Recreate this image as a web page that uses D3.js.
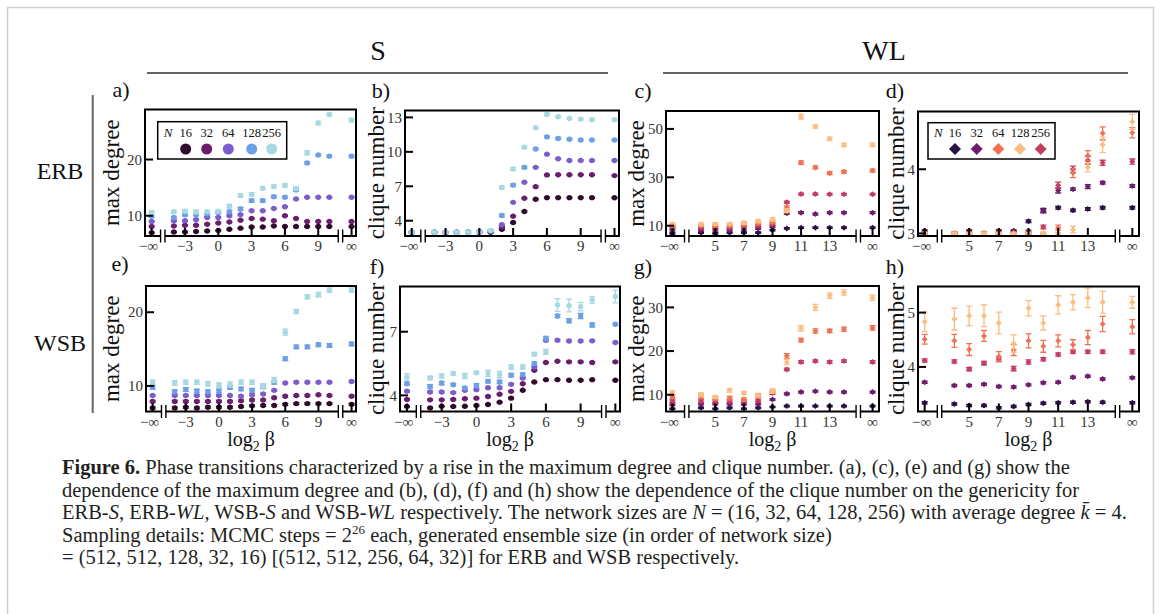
<!DOCTYPE html>
<html>
<head>
<meta charset="utf-8">
<script src="https://cdn.jsdelivr.net/npm/d3@7"></script>
<style>
  body { margin: 0; background: #fff; }
  svg { display: block; }
  text { font-family: "Liberation Serif", "Times New Roman", serif; fill: #111; }
</style>
</head>
<body>
<svg id="fig" width="1167" height="614"></svg>
<script>
// x positions: -inf is drawn at -6 (S) / 2 (WL), +inf at 12 (S) / 16 (WL)
const xS = [-6, -4, -3, -2, -1, 0, 1, 2, 3, 4, 5, 6, 7, 8, 9, 10, 12];
const xWL = [2, 4, 5, 6, 7, 8, 9, 10, 11, 12, 13, 14, 16];
const xTicksS = [-6, -3, 0, 3, 6, 9, 12];
const xTickLabelsS = ['−∞', '−3', '0', '3', '6', '9', '∞'];
const xTicksWL = [2, 5, 7, 9, 11, 13, 16];
const xTickLabelsWL = ['−∞', '5', '7', '9', '11', '13', '∞'];
const sizes = [16, 32, 64, 128, 256];

const colorsS = ['#2f0c2b', '#6a1f6e', '#7d5ccc', '#6c9fe6', '#a8d8e2'];
// WL series in drawing order: 16, 32, 256, 64, 128 (legend colours as in the figure)
const colorsWL = ['#2b1246', '#6e1e6f', '#c43c62', '#ee7354', '#fbbe80'];
const legendWL = ['#2b1246', '#6e1e6f', '#ee7354', '#fbbe80', '#c43c62'];

// (a) ERB-S max degree ; rows: N = 16, 32, 64, 128, 256
const erbSDeg = [
  [7.0, 7.1, 7.1, 7.2, 7.3, 7.4, 7.6, 7.8, 8.0, 8.0, 8.2, 8.1, 8.1, 8.1, 8.1, 8.1, 8.1],
  [8.1, 8.2, 8.3, 8.3, 8.5, 8.7, 8.9, 9.2, 9.5, 9.4, 9.1, 10.0, 9.5, 9.0, 9.0, 9.0, 9.0],
  [9.0, 9.1, 9.1, 9.3, 9.7, 9.7, 10.0, 10.2, 10.9, 10.9, 11.3, 11.6, 13.0, 13.3, 13.3, 13.3, 13.3],
  [9.9, 9.7, 10.2, 10.2, 10.3, 10.6, 10.7, 11.2, 12.7, 12.7, 13.4, 13.3, 14.6, 19.4, 20.8, 20.6, 20.6],
  [10.6, 10.7, 10.8, 10.7, 10.7, 10.8, 11.7, 13.6, 13.8, 14.9, 15.2, 15.4, 14.8, 21.2, 26.5, 28.0, 27.0]
];
const erbSDegErr = [
  [0.1, 0.1, 0.1, 0.1, 0.1, 0.1, 0.1, 0.1, 0.1, 0.1, 0.1, 0.1, 0.1, 0.1, 0.1, 0.1, 0.1],
  [0.1, 0.1, 0.1, 0.1, 0.1, 0.1, 0.1, 0.1, 0.1, 0.1, 0.1, 0.1, 0.1, 0.1, 0.1, 0.1, 0.1],
  [0.12, 0.12, 0.12, 0.12, 0.12, 0.12, 0.12, 0.12, 0.12, 0.12, 0.12, 0.12, 0.12, 0.12, 0.12, 0.12, 0.12],
  [0.2, 0.2, 0.2, 0.2, 0.2, 0.2, 0.25, 0.3, 0.25, 0.25, 0.2, 0.2, 0.25, 0.2, 0.2, 0.2, 0.2],
  [0.3, 0.25, 0.3, 0.3, 0.25, 0.25, 0.3, 0.3, 0.25, 0.25, 0.25, 0.25, 0.3, 0.35, 0.3, 0.25, 0.3]
];

// (b) ERB-S clique number
const erbSClq = [
  [3.0, 3.0, 3.0, 3.0, 3.0, 3.05, 3.0, 3.26, 3.84, 4.8, 5.87, 6.01, 6.01, 6.01, 6.01, 6.01, 6.0],
  [3.0, 3.0, 3.0, 3.0, 3.0, 3.0, 3.05, 3.43, 4.4, 5.96, 6.97, 7.99, 8.0, 8.0, 8.0, 8.0, 7.93],
  [3.0, 3.0, 3.0, 3.0, 3.0, 3.0, 3.1, 3.65, 5.6, 7.35, 8.65, 9.8, 9.4, 9.25, 9.25, 9.25, 9.25],
  [3.0, 3.0, 3.0, 3.0, 3.0, 3.0, 3.1, 4.45, 7.1, 8.65, 10.25, 11.3, 11.17, 11.1, 11.03, 11.03, 11.03],
  [3.0, 3.0, 3.0, 3.0, 3.0, 3.0, 3.15, 6.9, 8.5, 10.4, 12.1, 13.26, 13.06, 12.9, 12.85, 12.8, 12.8]
];
const erbSClqErr = [
  [0.05, 0.05, 0.05, 0.05, 0.05, 0.05, 0.05, 0.05, 0.05, 0.05, 0.05, 0.05, 0.05, 0.05, 0.05, 0.05, 0.05],
  [0.05, 0.05, 0.05, 0.05, 0.05, 0.05, 0.05, 0.05, 0.05, 0.05, 0.05, 0.05, 0.05, 0.05, 0.05, 0.05, 0.05],
  [0.05, 0.05, 0.05, 0.05, 0.05, 0.05, 0.05, 0.05, 0.05, 0.05, 0.05, 0.05, 0.05, 0.05, 0.05, 0.05, 0.05],
  [0.06, 0.06, 0.06, 0.06, 0.06, 0.06, 0.06, 0.12, 0.1, 0.1, 0.08, 0.08, 0.08, 0.08, 0.08, 0.08, 0.08],
  [0.06, 0.06, 0.06, 0.06, 0.06, 0.06, 0.08, 0.12, 0.12, 0.1, 0.08, 0.1, 0.08, 0.08, 0.08, 0.08, 0.1]
];

// (c) ERB-WL max degree ; rows in drawing order: N = 16, 32, 256, 64, 128
const erbWlDeg = [
  [6.8, 7.1, 6.8, 7.1, 7.1, 7.1, 8.2, 8.9, 9.2, 9.2, 9.2, 9.2, 9.2],
  [8.2, 8.2, 8.2, 8.2, 8.2, 8.9, 9.6, 15.1, 15.4, 14.8, 15.4, 15.4, 15.4],
  [9.2, 9.2, 9.2, 9.2, 9.6, 10.0, 10.7, 19.7, 23.1, 23.1, 23.0, 23.0, 23.0],
  [10.0, 10.0, 10.0, 10.0, 10.6, 11.0, 11.4, 17.4, 36.1, 34.1, 31.7, 32.3, 32.8],
  [10.7, 10.6, 10.7, 10.7, 11.2, 11.9, 12.6, 16.2, 55.1, 51.0, 45.9, 43.4, 43.4]
];
const erbWlDegErr = [
  [0.3, 0.3, 0.3, 0.3, 0.3, 0.3, 0.3, 0.3, 0.3, 0.3, 0.3, 0.3, 0.3],
  [0.4, 0.4, 0.4, 0.4, 0.4, 0.4, 0.4, 0.4, 0.4, 0.4, 0.4, 0.4, 0.4],
  [0.4, 0.4, 0.4, 0.4, 0.4, 0.4, 0.4, 0.5, 0.4, 0.4, 0.4, 0.4, 0.4],
  [0.5, 0.5, 0.5, 0.5, 0.5, 0.5, 0.5, 0.8, 0.7, 0.6, 0.6, 0.6, 0.6],
  [0.6, 0.6, 0.6, 0.6, 0.6, 0.6, 0.6, 0.8, 1.0, 0.7, 0.7, 0.7, 0.7]
];

// (d) ERB-WL clique number
const erbWlClq = [
  [3.04, 3.0, 3.04, 3.0, 3.04, 3.04, 3.19, 3.36, 3.40, 3.36, 3.38, 3.40, 3.40],
  [3.0, 3.0, 3.0, 3.0, 3.0, 3.03, 3.03, 3.35, 3.67, 3.69, 3.73, 3.79, 3.74],
  [3.0, 3.0, 3.0, 3.0, 3.0, 3.0, 3.0, 3.10, 3.75, 4.0, 4.14, 4.10, 4.12],
  [3.0, 3.0, 3.0, 3.0, 3.0, 3.0, 3.0, 3.0, 3.09, 3.94, 4.21, 4.56, 4.57],
  [3.0, 3.0, 3.0, 3.0, 3.0, 3.0, 3.0, 3.0, 3.0, 3.06, 4.03, 4.38, 4.74]
];
const erbWlClqErr = [
  [0.015, 0.015, 0.015, 0.015, 0.015, 0.015, 0.02, 0.03, 0.02, 0.02, 0.02, 0.02, 0.02],
  [0.015, 0.015, 0.015, 0.015, 0.015, 0.015, 0.02, 0.03, 0.04, 0.02, 0.03, 0.02, 0.02],
  [0.015, 0.015, 0.015, 0.015, 0.015, 0.015, 0.015, 0.03, 0.05, 0.05, 0.06, 0.04, 0.04],
  [0.015, 0.015, 0.015, 0.015, 0.015, 0.015, 0.015, 0.015, 0.04, 0.07, 0.08, 0.1, 0.08],
  [0.015, 0.015, 0.015, 0.015, 0.015, 0.015, 0.015, 0.015, 0.015, 0.05, 0.07, 0.12, 0.12]
];

// (e) WSB-S max degree
const wsbSDeg = [
  [7.0, 7.0, 7.1, 7.0, 7.1, 7.1, 7.1, 7.2, 7.3, 7.35, 7.35, 7.5, 7.6, 7.6, 7.6, 7.6, 7.5],
  [7.9, 7.9, 7.9, 7.9, 7.9, 7.9, 7.9, 8.0, 8.1, 8.1, 8.4, 8.6, 8.7, 8.7, 8.8, 8.7, 8.6],
  [8.7, 8.7, 8.7, 8.7, 8.7, 8.7, 8.7, 8.6, 8.8, 8.9, 9.4, 10.4, 10.5, 10.5, 10.5, 10.5, 10.6],
  [9.8, 9.2, 9.5, 9.3, 9.2, 9.3, 9.8, 9.6, 9.4, 9.9, 10.5, 13.7, 15.3, 15.3, 15.6, 15.5, 15.7],
  [10.5, 10.4, 10.5, 10.5, 10.3, 10.1, 10.2, 10.5, 10.5, 10.0, 10.8, 17.3, 20.1, 22.1, 22.4, 23.0, 23.0]
];
const wsbSDegErr = [
  [0.12, 0.12, 0.12, 0.12, 0.12, 0.12, 0.12, 0.12, 0.12, 0.12, 0.12, 0.12, 0.12, 0.12, 0.12, 0.12, 0.12],
  [0.12, 0.12, 0.12, 0.12, 0.12, 0.12, 0.12, 0.12, 0.12, 0.12, 0.12, 0.12, 0.12, 0.12, 0.12, 0.12, 0.12],
  [0.12, 0.12, 0.12, 0.12, 0.12, 0.12, 0.12, 0.12, 0.12, 0.12, 0.12, 0.12, 0.12, 0.12, 0.12, 0.12, 0.12],
  [0.25, 0.25, 0.25, 0.25, 0.25, 0.25, 0.25, 0.25, 0.25, 0.25, 0.25, 0.25, 0.25, 0.25, 0.25, 0.25, 0.25],
  [0.3, 0.3, 0.3, 0.3, 0.3, 0.3, 0.35, 0.3, 0.3, 0.3, 0.35, 0.4, 0.3, 0.3, 0.3, 0.3, 0.3]
];

// (f) WSB-S clique number
const wsbSClq = [
  [3.48, 3.41, 3.49, 3.48, 3.49, 3.52, 3.57, 3.68, 3.87, 4.24, 4.63, 4.74, 4.74, 4.71, 4.71, 4.74, 4.71],
  [3.81, 3.79, 3.79, 3.81, 3.84, 3.87, 3.95, 4.05, 4.19, 4.55, 5.18, 5.55, 5.61, 5.58, 5.58, 5.55, 5.58],
  [4.2, 4.16, 4.16, 4.13, 4.24, 4.27, 4.36, 4.36, 4.52, 4.82, 5.34, 6.6, 6.6, 6.56, 6.56, 6.57, 6.49],
  [4.55, 4.42, 4.58, 4.5, 4.35, 4.47, 4.66, 4.63, 4.95, 4.98, 5.5, 6.68, 7.74, 7.52, 7.74, 7.32, 7.35],
  [4.87, 4.82, 4.91, 5.03, 4.91, 5.07, 5.03, 4.98, 5.34, 5.34, 5.94, 6.05, 8.26, 8.23, 8.18, 8.5, 8.66]
];
const wsbSClqErr = [
  [0.03, 0.03, 0.03, 0.03, 0.03, 0.03, 0.03, 0.03, 0.03, 0.03, 0.03, 0.03, 0.03, 0.03, 0.03, 0.03, 0.03],
  [0.03, 0.03, 0.03, 0.03, 0.03, 0.03, 0.03, 0.03, 0.03, 0.03, 0.03, 0.03, 0.03, 0.03, 0.03, 0.03, 0.03],
  [0.04, 0.04, 0.04, 0.04, 0.04, 0.04, 0.04, 0.04, 0.04, 0.04, 0.04, 0.05, 0.04, 0.04, 0.04, 0.04, 0.04],
  [0.07, 0.08, 0.08, 0.06, 0.06, 0.08, 0.07, 0.08, 0.08, 0.08, 0.08, 0.1, 0.08, 0.1, 0.12, 0.1, 0.05],
  [0.15, 0.08, 0.1, 0.08, 0.12, 0.06, 0.15, 0.15, 0.1, 0.1, 0.08, 0.12, 0.3, 0.3, 0.2, 0.15, 0.3]
];

// (g) WSB-WL max degree ; rows in drawing order: N = 16, 32, 256, 64, 128
const wsbWlDeg = [
  [6.8, 7.0, 6.8, 7.0, 6.8, 7.0, 7.2, 7.4, 7.4, 7.4, 7.4, 7.4, 7.4],
  [7.7, 7.9, 7.9, 7.9, 7.8, 7.9, 8.9, 10.2, 10.6, 10.8, 10.6, 10.6, 10.6],
  [8.5, 8.5, 8.5, 8.5, 8.5, 8.7, 10.4, 15.8, 17.5, 17.7, 17.5, 17.7, 17.5],
  [9.6, 9.6, 9.1, 9.2, 8.9, 9.8, 10.8, 18.9, 22.5, 24.6, 24.6, 25.0, 25.3],
  [10.5, 10.0, 9.5, 11.0, 10.4, 9.8, 10.8, 17.5, 25.2, 30.0, 32.7, 33.4, 32.2]
];
const wsbWlDegErr = [
  [0.15, 0.15, 0.15, 0.15, 0.15, 0.15, 0.15, 0.15, 0.15, 0.15, 0.15, 0.15, 0.15],
  [0.2, 0.2, 0.2, 0.2, 0.2, 0.2, 0.2, 0.2, 0.2, 0.2, 0.2, 0.2, 0.2],
  [0.3, 0.3, 0.3, 0.3, 0.3, 0.3, 0.3, 0.3, 0.3, 0.3, 0.3, 0.3, 0.3],
  [0.4, 0.4, 0.4, 0.4, 0.4, 0.4, 0.4, 0.5, 0.4, 0.5, 0.4, 0.5, 0.5],
  [0.4, 0.4, 0.3, 0.4, 0.35, 0.3, 0.4, 0.6, 0.6, 0.7, 0.6, 0.6, 0.6]
];

// (h) WSB-WL clique number
const wsbWlClq = [
  [3.34, 3.32, 3.29, 3.29, 3.25, 3.27, 3.31, 3.33, 3.34, 3.35, 3.36, 3.35, 3.34],
  [3.72, 3.66, 3.66, 3.68, 3.64, 3.63, 3.67, 3.71, 3.72, 3.81, 3.83, 3.78, 3.8],
  [4.12, 4.10, 3.96, 4.07, 4.14, 3.97, 4.09, 4.14, 4.23, 4.28, 4.28, 4.28, 4.28],
  [4.51, 4.48, 4.32, 4.57, 4.19, 4.31, 4.48, 4.38, 4.48, 4.41, 4.54, 4.79, 4.74],
  [4.83, 4.88, 4.94, 4.94, 4.81, 4.43, 5.08, 4.81, 5.14, 5.19, 5.27, 5.19, 5.19]
];
const wsbWlClqErr = [
  [0.02, 0.02, 0.02, 0.02, 0.02, 0.02, 0.02, 0.02, 0.02, 0.02, 0.02, 0.02, 0.02],
  [0.02, 0.02, 0.02, 0.02, 0.02, 0.02, 0.02, 0.02, 0.02, 0.02, 0.02, 0.02, 0.02],
  [0.03, 0.03, 0.03, 0.03, 0.04, 0.04, 0.04, 0.03, 0.03, 0.03, 0.03, 0.03, 0.04],
  [0.09, 0.12, 0.11, 0.1, 0.09, 0.1, 0.13, 0.11, 0.11, 0.09, 0.13, 0.14, 0.13],
  [0.18, 0.2, 0.18, 0.2, 0.2, 0.16, 0.14, 0.13, 0.17, 0.14, 0.18, 0.2, 0.11]
];

const svg = d3.select('#fig');

// outer figure frame
svg.append('rect').attr('x', 7.5).attr('y', 7.5).attr('width', 1146).attr('height', 640)
  .attr('fill', 'none').attr('stroke', '#cfcfcf').attr('stroke-width', 1.5);

// column headings
[['S', 378, 147, 608], ['WL', 884, 663, 1128]].forEach(([t, cx, l, r]) => {
  svg.append('text').attr('x', cx).attr('y', 60).attr('text-anchor', 'middle')
    .style('font-size', '28px').text(t);
  svg.append('line').attr('x1', l).attr('x2', r).attr('y1', 73).attr('y2', 73)
    .attr('stroke', '#666').attr('stroke-width', 2);
});

// row headings
svg.append('line').attr('x1', 92.7).attr('x2', 92.7).attr('y1', 95).attr('y2', 413)
  .attr('stroke', '#666').attr('stroke-width', 2);
[['ERB', 171], ['WSB', 343]].forEach(([t, cy]) => {
  svg.append('text').attr('x', 60).attr('y', cy).attr('dy', '0.35em').attr('text-anchor', 'middle')
    .style('font-size', '24px').text(t);
});

const panels = [
  { lab: 'a)', lp: [121, 89], box: [145, 109.5, 356, 236], wl: false, data: erbSDeg, err: erbSDegErr,
    yDom: [6.4, 28.9], yTicks: [10, 20], ylab: 'max degree', ylx: 111, legend: true },
  { lab: 'b)', lp: [381, 90], box: [405, 110.5, 619, 236], wl: false, data: erbSClq, err: erbSClqErr,
    yDom: [2.67, 13.6], yTicks: [4, 7, 10, 13], ylab: 'clique number', ylx: 376 },
  { lab: 'c)', lp: [643, 90], box: [666, 111, 879, 236], wl: true, data: erbWlDeg, err: erbWlDegErr,
    yDom: [5.75, 57.4], yTicks: [10, 30, 50], ylab: 'max degree', ylx: 636 },
  { lab: 'd)', lp: [895, 90], box: [918, 111.5, 1139, 236], wl: true, data: erbWlClq, err: erbWlClqErr,
    yDom: [2.96, 4.9], yTicks: [3, 4], ylab: 'clique number', ylx: 896, legend: true },
  { lab: 'e)', lp: [120, 263], box: [146, 286, 356, 411.5], wl: false, data: wsbSDeg, err: wsbSDegErr,
    yDom: [6.53, 23.56], yTicks: [10, 20], ylab: 'max degree', ylx: 111, xlab: true },
  { lab: 'f)', lp: [377, 266], box: [400, 286.5, 620, 411.5], wl: false, data: wsbSClq, err: wsbSClqErr,
    yDom: [3.24, 9.13], yTicks: [4, 7], ylab: 'clique number', ylx: 376, xlab: true },
  { lab: 'g)', lp: [643, 266], box: [666, 286, 879, 411.5], wl: true, data: wsbWlDeg, err: wsbWlDegErr,
    yDom: [6.16, 34.9], yTicks: [10, 20, 30], ylab: 'max degree', ylx: 636, xlab: true },
  { lab: 'h)', lp: [895, 266], box: [918, 286.5, 1139, 411.5], wl: true, data: wsbWlClq, err: wsbWlClqErr,
    yDom: [3.18, 5.48], yTicks: [4, 5], ylab: 'clique number', ylx: 896, xlab: true }
];

const diamond = d3.symbol().type(d3.symbolSquare);

function drawPanel(p) {
  const [x0, y0, x1, y1] = p.box;
  const xs = p.wl ? xWL : xS;
  const x = d3.scaleLinear().domain(p.wl ? [1.55, 16.45] : [-6.6, 12.4]).range([x0, x1]);
  const y = d3.scaleLinear().domain(p.yDom).range([y1, y0]);
  const cols = p.wl ? colorsWL : colorsS;
  const g = svg.append('g');

  // points with error bars
  p.data.forEach((vals, i) => {
    const pts = xs.map((xv, j) => ({ x: xv, v: vals[j], e: p.err[i][j] }));
    const sg = g.append('g').attr('stroke', cols[i]).attr('fill', cols[i]);
    sg.selectAll('.eb').data(pts).join('path').attr('class', 'eb')
      .attr('stroke-width', 1.3).attr('fill', 'none')
      .attr('d', d => {
        const cx = x(d.x), ya = y(d.v - d.e), yb = y(d.v + d.e);
        return `M${cx},${ya}V${yb}M${cx - 3},${ya}H${cx + 3}M${cx - 3},${yb}H${cx + 3}`;
      });
    if (p.wl) {
      sg.selectAll('.pt').data(pts).join('path').attr('class', 'pt').attr('stroke', 'none')
        .attr('d', diamond.size(18))
        .attr('transform', d => `translate(${x(d.x)},${y(d.v)}) rotate(45)`);
    } else {
      sg.selectAll('.pt').data(pts).join('circle').attr('class', 'pt').attr('stroke', 'none')
        .attr('cx', d => x(d.x)).attr('cy', d => y(d.v)).attr('r', 2.7);
    }
  });

  // frame
  g.append('rect').attr('x', x0).attr('y', y0).attr('width', x1 - x0).attr('height', y1 - y0)
    .attr('fill', 'none').attr('stroke', '#000').attr('stroke-width', 2);

  // y ticks (inward)
  p.yTicks.forEach(t => {
    g.append('line').attr('x1', x0).attr('x2', x0 + 8).attr('y1', y(t)).attr('y2', y(t))
      .attr('stroke', '#000').attr('stroke-width', 2);
    g.append('text').attr('x', x0 - 3).attr('y', y(t)).attr('dy', '0.35em')
      .attr('text-anchor', 'end').style('font-size', '15px').style('fill', '#333').text(t);
  });

  // x ticks (inward)
  const xt = p.wl ? xTicksWL : xTicksS, xl = p.wl ? xTickLabelsWL : xTickLabelsS;
  xt.forEach((t, k) => {
    g.append('line').attr('x1', x(t)).attr('x2', x(t)).attr('y1', y1).attr('y2', y1 - 8)
      .attr('stroke', '#000').attr('stroke-width', 2);
    g.append('text').attr('x', x(t) + (k === 0 ? -3 : 0)).attr('y', y1 + 15)
      .attr('text-anchor', 'middle').style('font-size', '15px').style('fill', '#333').text(xl[k]);
  });

  // axis breaks
  (p.wl ? [3, 15] : [-5, 11]).forEach(b => {
    const bx = x(b);
    g.append('rect').attr('x', bx - 2).attr('y', y1 - 2).attr('width', 4).attr('height', 4).attr('fill', '#fff');
    [-2.2, 2.2].forEach(o => {
      g.append('line').attr('x1', bx + o).attr('x2', bx + o).attr('y1', y1 - 6.5).attr('y2', y1 + 6.5)
        .attr('stroke', '#000').attr('stroke-width', 1.4);
    });
  });

  // labels
  g.append('text').attr('x', p.lp[0]).attr('y', p.lp[1]).attr('dy', '0.35em').attr('text-anchor', 'middle')
    .style('font-size', '22px').text(p.lab);
  g.append('text').attr('transform', `translate(${p.ylx},${(y0 + y1) / 2}) rotate(-90)`)
    .attr('dy', '0.35em').attr('text-anchor', 'middle').style('font-size', '23px').text(p.ylab);
  if (p.xlab) {
    const t = g.append('text').attr('x', (x0 + x1) / 2).attr('y', 446).attr('text-anchor', 'middle')
      .style('font-size', '20px');
    t.append('tspan').text('log');
    t.append('tspan').attr('dy', 5).style('font-size', '14px').text('2');
    t.append('tspan').attr('dy', -5).text(' β');
  }

  if (p.legend) {
    const lb = p.wl ? [928, 122.7, 1055, 159] : [157.7, 121.7, 286.7, 159];
    const lx = p.wl ? [955, 976.7, 998.3, 1020, 1040.7] : [185.7, 206.7, 228.3, 251.7, 271.7];
    g.append('rect').attr('x', lb[0]).attr('y', lb[1]).attr('width', lb[2] - lb[0]).attr('height', lb[3] - lb[1])
      .attr('fill', '#fff').attr('stroke', '#000').attr('stroke-width', 1.5);
    g.append('text').attr('x', lb[0] + 6).attr('y', 132.5).attr('dy', '0.35em')
      .style('font-size', '13px').style('font-style', 'italic').text('N');
    sizes.forEach((n, k) => {
      g.append('text').attr('x', lx[k]).attr('y', 132.5).attr('dy', '0.35em').attr('text-anchor', 'middle')
        .style('font-size', '12.5px').text(n);
      if (p.wl) {
        g.append('path').attr('d', d3.symbol().type(d3.symbolSquare).size(72)())
          .attr('transform', `translate(${lx[k]},149) rotate(45)`).attr('fill', legendWL[k]);
      } else {
        g.append('circle').attr('cx', lx[k]).attr('cy', 149).attr('r', 5.5).attr('fill', colorsS[k]);
      }
    });
  }
}

panels.forEach(drawPanel);

// caption
const caption = [
  [['Figure 6.', 'b'], [' Phase transitions characterized by a rise in the maximum degree and clique number. (a), (c), (e) and (g) show the']],
  [['dependence of the maximum degree and (b), (d), (f) and (h) show the dependence of the clique number on the genericity for']],
  [['ERB-'], ['S', 'i'], [', ERB-'], ['WL', 'i'], [', WSB-'], ['S', 'i'], [' and WSB-'], ['WL', 'i'],
   [' respectively. The network sizes are '], ['N', 'i'], [' = (16, 32, 64, 128, 256) with average degree '],
   ['k\u0304', 'i'], [' = 4.']],
  [['Sampling details: MCMC steps = 2'], ['26', 'sup'], [' each, generated ensemble size (in order of network size)']],
  [['= (512, 512, 128, 32, 16) [(512, 512, 256, 64, 32)] for ERB and WSB respectively.']]
];
const capY = [474, 496.5, 519, 541.5, 564];
caption.forEach((segs, li) => {
  const t = svg.append('text').attr('x', 62).attr('y', capY[li]).style('font-size', '20.5px').style('fill', '#231f20');
  segs.forEach(([s, st]) => {
    const ts = t.append('tspan').text(s);
    if (st === 'b') ts.style('font-weight', 'bold');
    if (st === 'i') ts.style('font-style', 'italic');
    if (st === 'sup') {
      ts.attr('dy', -8).style('font-size', '13px');
    }
  });
  // restore baseline after superscript
  t.selectAll('tspan').each(function (d, k, nodes) {
    const prev = k > 0 ? d3.select(nodes[k - 1]) : null;
    if (prev && prev.attr('dy') === '-8') d3.select(this).attr('dy', 8);
  });
});
</script>
</body>
</html>
